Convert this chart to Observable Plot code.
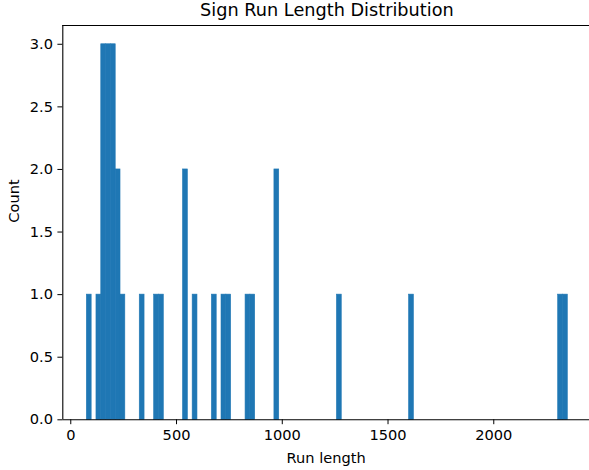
<!DOCTYPE html>
<html>
<head>
<meta charset="utf-8">
<script src="https://cdn.jsdelivr.net/npm/d3@7"></script>
<script src="https://cdn.jsdelivr.net/npm/@observablehq/plot@0.6"></script>
<style>
  html, body { margin: 0; padding: 0; background: #fff; }
  body { font-family: "DejaVu Sans", sans-serif; width: 589px; height: 470px; overflow: hidden; }
  #title { position: relative; height: 25px; width: 589px; }
  #title span { position: absolute; left: 326.9px; top: 1.6px; transform: translateX(-50%);
    font-size: 17.7px; line-height: 1; white-space: nowrap; color: #000; }
  #chart svg { display: block; }
</style>
</head>
<body>
<div id="title"><span>Sign Run Length Distribution</span></div>
<div id="chart"></div>
<script>
// Run lengths (100 equal-width bins)
const runLengths = [
  76, 130, 148, 155, 162, 172, 178, 185, 195, 200, 208, 218, 228, 245,
  335, 405, 430, 538, 548, 590, 680, 725, 750, 840, 860, 970, 980,
  1270, 1612, 2315, 2350
];
const nBins = 100;
const xTicks = [0, 500, 1000, 1500, 2000];
const yTicks = [0, 0.5, 1.0, 1.5, 2.0, 2.5, 3.0];
const titleText = "Sign Run Length Distribution";
const xLabel = "Run length";
const yLabel = "Count";

const [rMin, rMax] = d3.extent(runLengths);
const binW = (rMax - rMin) / nBins;
const interior = d3.range(1, nBins).map(k => rMin + k * binW);
const bins = d3.bin().domain([rMin, rMax]).thresholds(interior)(runLengths)
  .map(b => ({x0: b.x0, x1: b.x1, count: b.length}))
  .filter(b => b.count > 0);

const span = rMax - rMin;
const xDomain = [rMin - 0.05 * span, 2452.6];
const yMax = d3.max(bins, b => b.count) * 1.05;
const fs = 14.6;

const plot = Plot.plot({
  width: 589,
  height: 445,
  marginLeft: 62.3,
  marginRight: 0,
  marginTop: 0,
  marginBottom: 50.7,
  style: {fontFamily: "DejaVu Sans", fontSize: fs + "px", color: "#000", background: "#fff", overflow: "hidden"},
  x: {domain: xDomain, ticks: xTicks, tickFormat: d3.format("d"), tickSize: 4.9, tickPadding: 4.9, label: null},
  y: {domain: [0, yMax], ticks: yTicks, tickFormat: d3.format(".1f"), tickSize: 4.9, tickPadding: 4.9, label: null},
  marks: [
    Plot.rectY(bins, {x1: "x0", x2: "x1", y: "count", fill: "#1f77b4", stroke: "#1f77b4", strokeWidth: 0.6, inset: 0}),
    Plot.ruleX([xDomain[0]], {stroke: "#000", strokeWidth: 1.1}),
    Plot.ruleY([0], {stroke: "#000", strokeWidth: 1.1}),
    Plot.ruleY([yMax], {stroke: "#000", strokeWidth: 1.1}),
    Plot.text([xLabel], {text: d => d, frameAnchor: "bottom", lineAnchor: "top", dy: 32.8, fontSize: fs, fill: "#000"}),
    Plot.text([yLabel], {text: d => d, frameAnchor: "left", lineAnchor: "top", rotate: -90, dx: -54.5, fontSize: fs, fill: "#000"})
  ]
});
document.getElementById("chart").appendChild(plot);
</script>
</body>
</html>
